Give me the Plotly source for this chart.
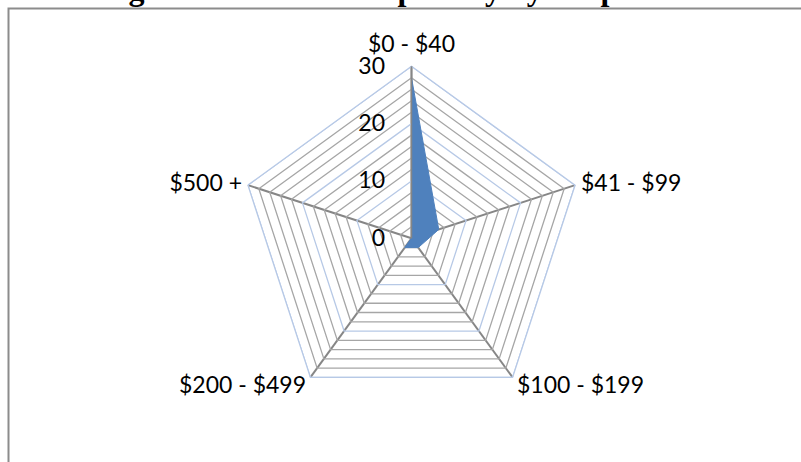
import plotly.graph_objects as go

# Gross sales bands and number of respondents in each
categories = ["$0 - $40", "$41 - $99", "$100 - $199", "$200 - $499", "$500 +"]
respondents = [28, 5, 2, 2, 0]

radial_max = 30
radial_ticks = [0, 10, 20, 30]
ring_step = 2

title_text = "Figure 6: Gross Sales per day by Respondents"

W, H = 801, 462
cx, cy, R = 411.5, 238.3, 172.0
NBSP = "\u00a0"


def polar_domain(radius):
    return dict(x=[(cx - radius) / W, (cx + radius) / W],
                y=[(H - cy - radius) / H, (H - cy + radius) / H])


fig = go.Figure()

# concentric polygon rings: light blue at major ticks, grey in between
closed_theta = categories + categories[:1]
for r in range(ring_step, radial_max + 1, ring_step):
    major = r % 10 == 0
    fig.add_trace(go.Scatterpolar(
        r=[r] * len(closed_theta),
        theta=closed_theta,
        mode="lines",
        line=dict(color="#B7C9E6" if major else "#A6A6A6", width=1.3),
        hoverinfo="skip",
        showlegend=False,
    ))

# filled data series
fig.add_trace(go.Scatterpolar(
    r=respondents + respondents[:1],
    theta=closed_theta,
    mode="lines",
    fill="toself",
    fillcolor="#4F81BD",
    line=dict(color="#4F81BD", width=1),
    showlegend=False,
))

label_font = dict(family="Lato, Open Sans, sans-serif", size=23, color="#000000")

# category names beside each outer vertex, on an overlaid polar that has
# the same centre and unit length but extends past the outer ring
label_range = radial_max * 1.1
label_positions = ["top center", "middle right", "bottom right", "bottom left", "middle left"]
label_radius = [radial_max * 1.05, radial_max, radial_max * 0.985, radial_max * 0.985, radial_max]
label_text = [
    categories[0],
    NBSP + categories[1],
    NBSP + categories[2],
    categories[3] + NBSP,
    categories[4] + NBSP,
]
fig.add_trace(go.Scatterpolar(
    r=label_radius,
    theta=categories,
    mode="text",
    text=label_text,
    textposition=label_positions,
    textfont=label_font,
    cliponaxis=False,
    hoverinfo="skip",
    showlegend=False,
    subplot="polar2",
))

fig.update_layout(
    width=W,
    height=H,
    margin=dict(l=0, r=0, t=0, b=0),
    paper_bgcolor="white",
    plot_bgcolor="white",
    showlegend=False,
    polar=dict(
        domain=polar_domain(R),
        bgcolor="white",
        gridshape="linear",
        angularaxis=dict(
            type="category",
            categoryarray=categories,
            direction="clockwise",
            rotation=90,
            showline=True,
            linecolor="#B7C9E6",
            linewidth=1.3,
            showgrid=True,
            gridcolor="#868686",
            gridwidth=1.5,
            ticks="",
            showticklabels=False,
        ),
        radialaxis=dict(
            range=[0, radial_max],
            angle=90,
            tickangle=90,
            tickvals=radial_ticks,
            ticktext=[str(v) + NBSP * 3 for v in radial_ticks],
            side="counterclockwise",
            showgrid=False,
            showline=True,
            linecolor="#868686",
            linewidth=1.5,
            ticks="",
            tickfont=label_font,
        ),
    ),
    polar2=dict(
        domain=polar_domain(R * label_range / radial_max),
        bgcolor="rgba(0,0,0,0)",
        angularaxis=dict(
            type="category",
            categoryarray=categories,
            direction="clockwise",
            rotation=90,
            showline=False,
            showgrid=False,
            ticks="",
            showticklabels=False,
        ),
        radialaxis=dict(range=[0, label_range], visible=False),
    ),
    annotations=[dict(
        text="<b>" + title_text + "</b>",
        xref="paper", yref="paper",
        x=412 / W, y=(H - 9) / H,
        xanchor="center", yanchor="bottom",
        showarrow=False,
        font=dict(family="Liberation Serif, Times New Roman, serif", size=32, color="#000000"),
    )],
    shapes=[dict(
        type="rect", xref="paper", yref="paper",
        x0=8.5 / W, x1=1.02, y0=-0.02, y1=(H - 8.5) / H,
        line=dict(color="#8C8C8C", width=2),
        fillcolor="rgba(0,0,0,0)",
        layer="above",
    )],
)

fig.write_html("out.html")
